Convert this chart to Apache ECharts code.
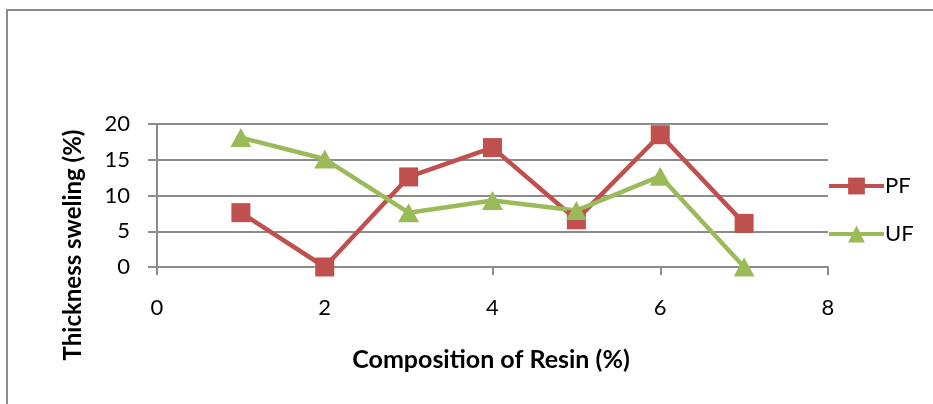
<!DOCTYPE html>
<html>
<head>
<meta charset="utf-8">
<script src="https://cdn.jsdelivr.net/npm/echarts@6/dist/echarts.min.js"></script>
<style>html,body{margin:0;padding:0;background:#fff;}#c{width:933px;height:404px;}</style>
</head>
<body>
<div id="c"></div>
<script>
var xValues = [1, 2, 3, 4, 5, 6, 7];
var pfValues = [7.6, 0, 12.6, 16.7, 6.6, 18.5, 6.1];
var ufValues = [18.1, 15.1, 7.6, 9.3, 7.9, 12.7, 0];
var seriesNames = ['PF', 'UF'];
var xTitle = 'Composition of Resin (%)';
var yTitle = 'Thickness sweling (%)';

function pairs(xs, ys) { return xs.map(function (x, i) { return [x, ys[i]]; }); }

var FONT = 'Lato, "Noto Sans", sans-serif';
var chart = echarts.init(document.getElementById('c'), null, { renderer: 'canvas' });
chart.setOption({
  animation: false,
  backgroundColor: '#fff',
  grid: { left: 157, right: 105, top: 124, bottom: 137, containLabel: false },
  xAxis: {
    type: 'value', min: 0, max: 8, interval: 2,
    axisLine: { show: true, onZero: false, lineStyle: { color: '#8c8c8c', width: 2 } },
    axisTick: { show: true, length: 8, lineStyle: { color: '#8c8c8c', width: 2 } },
    axisLabel: { color: '#000', fontFamily: FONT, fontSize: 22, margin: 30 },
    splitLine: { show: false }
  },
  yAxis: {
    type: 'value', min: 0, max: 20, interval: 5,
    axisLine: { show: true, lineStyle: { color: '#8c8c8c', width: 2 } },
    axisTick: { show: true, length: 9, lineStyle: { color: '#8c8c8c', width: 2 } },
    axisLabel: { color: '#000', fontFamily: FONT, fontSize: 22, margin: 27 },
    splitLine: { show: true, lineStyle: { color: '#8c8c8c', width: 2 } }
  },
  legend: {
    left: 822, top: 170, orient: 'vertical', itemGap: 26,
    itemWidth: 55, itemHeight: 21,
    lineStyle: { width: 4 },
    textStyle: { color: '#000', fontFamily: FONT, fontSize: 22, padding: [0, 0, 0, -4] },
    data: seriesNames
  },
  series: [
    {
      name: seriesNames[0], type: 'line', data: pairs(xValues, pfValues),
      symbol: 'rect', symbolSize: 19,
      lineStyle: { color: '#C0504D', width: 4.5 },
      itemStyle: { color: '#C0504D' }
    },
    {
      name: seriesNames[1], type: 'line', data: pairs(xValues, ufValues),
      symbol: 'triangle', symbolSize: [21, 19],
      lineStyle: { color: '#9BBB59', width: 4.5 },
      itemStyle: { color: '#9BBB59' }
    }
  ],
  graphic: [
    { type: 'rect', shape: { x: 7, y: 10, width: 1000, height: 500 }, style: { fill: 'none', stroke: '#8c8c8c', lineWidth: 2 }, silent: true },
    { type: 'text', x: 73, y: 245, rotation: Math.PI / 2,
      style: { text: yTitle, font: 'bold 24px ' + FONT, fill: '#000', textAlign: 'center', textVerticalAlign: 'middle' } },
    { type: 'text', x: 491, y: 360,
      style: { text: xTitle, font: 'bold 25px ' + FONT, fill: '#000', textAlign: 'center', textVerticalAlign: 'middle' } }
  ]
});
</script>
</body>
</html>
